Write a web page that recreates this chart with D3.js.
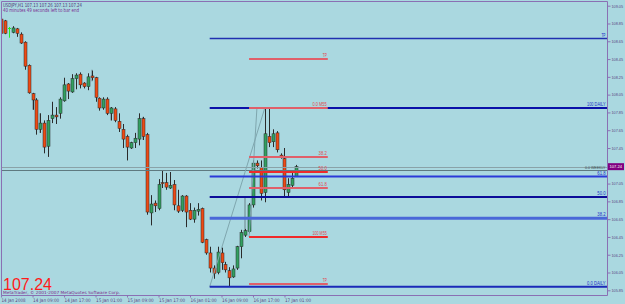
<!DOCTYPE html>
<html><head><meta charset="utf-8">
<script src="https://cdn.jsdelivr.net/npm/d3@7"></script>
<style>html,body{margin:0;padding:0;background:#aad8e0;overflow:hidden}svg{display:block}</style>
</head><body>
<svg id="c" width="625" height="304"></svg>
<script>
// ---- data ----
const symbol = "USDJPY,H1";
const lastOHLC = ["107.13", "107.26", "107.13", "107.24"];
const timerText = "40 minutes 49 seconds left to bar end";
const copyright = "MetaTrader, \u00A9 2001-2007 MetaQuotes Software Corp.";
const lastPrice = 107.24;

const timeTickBars = [0, 8, 16, 24, 32, 40, 48, 56, 64, 72];
const timeTickLabels = ["14 Jan 2008", "14 Jan 09:00", "14 Jan 17:00", "15 Jan 01:00", "15 Jan 09:00",
  "15 Jan 17:00", "16 Jan 01:00", "16 Jan 09:00", "16 Jan 17:00", "17 Jan 01:00"];

const priceTicks = [109.05, 108.85, 108.65, 108.45, 108.25, 108.05, 107.85, 107.65, 107.45,
  107.05, 106.85, 106.65, 106.45, 106.25, 106.05, 105.85];

const open  = [108.90,108.88,108.80,108.75,108.79,108.73,108.64,108.38,108.06,107.99,
  107.66,107.73,107.47,107.78,107.82,107.84,107.98,108.17,108.08,108.23,
  108.28,108.18,108.14,108.26,108.24,108.01,107.90,108.00,107.84,107.89,
  107.75,107.66,107.58,107.45,107.51,107.55,107.78,107.60,106.72,106.83,
  106.77,107.06,107.06,107.00,107.04,106.80,106.75,106.91,106.75,106.65,
  106.74,106.77,106.42,106.27,106.10,106.05,106.27,106.14,106.07,106.00,
  106.10,106.34,106.47,106.51,106.81,107.28,107.23,106.95,107.58,107.52,
  107.62,107.37,107.33,106.95,107.03,107.13];
const high  = [108.90,108.89,108.81,108.82,108.80,108.75,108.65,108.39,108.07,108.01,
  107.84,107.76,107.82,107.97,107.91,108.02,108.24,108.18,108.28,108.29,
  108.30,108.19,108.29,108.32,108.25,108.02,108.02,108.02,107.91,107.91,
  107.84,107.72,107.60,107.52,107.62,107.84,107.80,107.62,106.92,106.86,
  107.10,107.20,107.17,107.18,107.09,106.98,106.92,106.92,106.83,106.78,
  106.83,106.78,106.43,106.34,106.13,106.34,106.33,106.17,106.11,106.13,
  106.35,106.53,106.54,106.83,107.31,107.31,107.31,107.90,107.90,107.66,
  107.64,107.39,107.45,107.11,107.17,107.26];
const low   = [108.73,108.73,108.69,108.74,108.70,108.62,108.33,108.06,107.88,107.60,
  107.62,107.39,107.35,107.73,107.72,107.78,107.97,108.00,108.07,108.11,
  108.12,108.12,108.10,108.21,107.97,107.87,107.88,107.82,107.76,107.74,
  107.63,107.45,107.31,107.44,107.45,107.48,107.54,106.70,106.58,106.73,
  106.75,107.00,106.98,106.99,106.75,106.72,106.73,106.56,106.64,106.61,
  106.69,106.38,106.25,106.05,105.98,106.03,106.08,106.05,105.89,105.99,
  106.08,106.21,106.45,106.49,106.78,107.22,106.86,106.84,107.46,107.46,
  107.40,107.33,106.90,106.90,107.01,107.13];
const close = [108.74,108.74,108.80,108.80,108.74,108.63,108.37,108.07,107.99,107.66,
  107.73,107.46,107.76,107.82,107.80,108.00,108.16,108.09,108.23,108.27,
  108.16,108.14,108.25,108.24,108.02,107.90,108.00,107.84,107.90,107.76,
  107.67,107.55,107.46,107.51,107.56,107.78,107.58,106.73,106.82,106.80,
  107.04,107.05,107.01,107.03,106.81,106.74,106.91,106.73,106.65,106.75,
  106.76,106.39,106.27,106.10,106.04,106.28,106.16,106.08,105.99,106.09,
  106.34,106.50,106.52,106.81,107.28,107.25,106.94,107.61,107.51,107.61,
  107.43,107.35,106.98,107.04,107.11,107.24];

// grey ghost bars: bar index, high, low
const ghostBar  = [8, 10, 23, 28, 36, 62];
const ghostHigh = [108.02, 107.84, 108.33, 107.91, 107.80, 106.89];
const ghostLow  = [107.88, 107.62, 108.20, 107.76, 107.54, 106.51];

// DAILY fibo (blue, ray to the right)
const dailyAnchorBars = [53, 67];
const dailyAnchorPrices = [105.89, 107.90];
const dailyLevelPrices = [108.68, 107.90, 107.13, 106.90, 106.66, 105.89];
const dailyLevelLabels = ["TP", "100 DAILY", "61.8", "50.0", "38.2", "0.0 DAILY"];

// M55 fibo (red, segment)
const m55Bars = [63, 83];
const m55AnchorBars = [63, 65];
const m55AnchorPrices = [106.45, 107.90];
const m55LevelPrices = [108.45, 107.90, 107.35, 107.18, 107.00, 106.45, 105.92];
const m55LevelLabels = ["TP", "0.0 M55", "38.2", "50.0", "61.8", "100 M55", "TP"];

const weeklyPrice = 107.20;
const weeklyLabel = "0.0 WEEKLY";

// ---- drawing ----
const svg = d3.select("#c");
const W = 625, H = 304;
const L = 1.5, R = 607.5, T = 1.5, B = 295.5;
const FONT = "DejaVu Sans";
const NARROW = "Liberation Sans";

const x = d3.scaleLinear().domain([1, 75]).range([5, 296.3]);
const y = d3.scaleLinear().domain([105.85, 109.05]).range([290.3, 5.7]);
const px = v => Math.round(x(v)) + 0.5;
const py = v => Math.round(y(v)) + 0.5;

function fit(sel, w) {
  sel.attr("textLength", w).attr("lengthAdjust", "spacingAndGlyphs");
  return sel;
}
const CH = 2.05;

svg.append("rect").attr("width", W).attr("height", H).attr("fill", "#aad8e0");

svg.append("defs").append("clipPath").attr("id", "plot")
  .append("rect").attr("x", L + 0.5).attr("y", T + 0.5).attr("width", R - L - 1).attr("height", B - T - 1);

const plot = svg.append("g").attr("clip-path", "url(#plot)");

// ghost bars
plot.append("g").selectAll("rect").data(ghostBar).join("rect")
  .attr("x", (d) => Math.round(x(d)) - 1)
  .attr("width", 2)
  .attr("y", (d, i) => y(ghostHigh[i]))
  .attr("height", (d, i) => y(ghostLow[i]) - y(ghostHigh[i]))
  .attr("fill", "#6f8a92").attr("opacity", 0.55);

// candles
const bars = d3.range(open.length);
const cg = plot.append("g");
bars.forEach(i => {
  const o = open[i], c = close[i], h = high[i], l = low[i];
  const cx = px(i);
  const doji = Math.abs(o - c) < 0.001;
  const up = c > o;
  cg.append("line").attr("x1", cx).attr("x2", cx)
    .attr("y1", y(h)).attr("y2", y(l))
    .attr("stroke", doji ? "#22ee22" : "#2a2a2a").attr("stroke-width", 1);
  if (doji) {
    cg.append("line").attr("x1", cx - 1.5).attr("x2", cx + 1.5)
      .attr("y1", py(o)).attr("y2", py(o)).attr("stroke", "#22ee22");
  } else {
    const top = y(Math.max(o, c)), bot = y(Math.min(o, c));
    cg.append("rect").attr("x", cx - 1.5).attr("width", 3)
      .attr("y", top).attr("height", Math.max(1, bot - top))
      .attr("fill", up ? "#32a060" : "#ee4a14")
      .attr("stroke", "#2a2a2a").attr("stroke-width", 0.5);
  }
});

// bid and weekly lines
plot.append("line").attr("x1", L).attr("x2", R).attr("y1", py(lastPrice)).attr("y2", py(lastPrice))
  .attr("stroke", "#8aa2a8").attr("stroke-width", 1);
plot.append("line").attr("x1", L).attr("x2", R).attr("y1", py(weeklyPrice)).attr("y2", py(weeklyPrice))
  .attr("stroke", "#5f7a80").attr("stroke-width", 1);
fit(svg.append("text").attr("x", 605.5 - weeklyLabel.length * CH).attr("y", py(weeklyPrice) - 2)
  .attr("font-family", NARROW).attr("font-size", 4.4).attr("fill", "#3a4a4e")
  .text(weeklyLabel), weeklyLabel.length * CH);

// fibo diagonals
plot.append("line")
  .attr("x1", x(dailyAnchorBars[0])).attr("y1", y(dailyAnchorPrices[0]))
  .attr("x2", x(dailyAnchorBars[1])).attr("y2", y(dailyAnchorPrices[1]))
  .attr("stroke", "#7fa6ae").attr("stroke-width", 1);
plot.append("line")
  .attr("x1", x(m55AnchorBars[0])).attr("y1", y(m55AnchorPrices[0]))
  .attr("x2", x(m55AnchorBars[1])).attr("y2", y(m55AnchorPrices[1]))
  .attr("stroke", "#7fa6ae").attr("stroke-width", 1);

// blue DAILY levels
const blueColors = ["#2030b0", "#0a10a8", "#2a3ad8", "#0c0c98", "#4a68d8", "#1a2ab8"];
const blueWidths = [1.5, 2, 2, 2, 3, 2];
dailyLevelPrices.forEach((p, i) => {
  plot.append("line").attr("x1", x(dailyAnchorBars[0])).attr("x2", R)
    .attr("y1", y(p)).attr("y2", y(p))
    .attr("stroke", blueColors[i]).attr("stroke-width", blueWidths[i]);
  const t = dailyLevelLabels[i], w = t.length * CH;
  fit(svg.append("text").attr("x", 605.5 - w).attr("y", y(p) - 1.8)
    .attr("font-family", NARROW).attr("font-size", 4.6).attr("fill", "#2030c8").text(t), w);
});

// red M55 levels
m55LevelPrices.forEach((p, i) => {
  const strong = (i === 3 || i === 5);
  plot.append("line").attr("x1", x(m55Bars[0])).attr("x2", x(m55Bars[1]))
    .attr("y1", y(p)).attr("y2", y(p))
    .attr("stroke", strong ? "#f02a2a" : "#e0606a").attr("stroke-width", 2);
  const t = m55LevelLabels[i], w = t.length * CH;
  fit(svg.append("text").attr("x", x(m55Bars[1]) - 1 - w).attr("y", y(p) - 2)
    .attr("font-family", NARROW).attr("font-size", 4.6).attr("fill", "#e04850").text(t), w);
});

// frame
svg.append("path").attr("d", `M${L},${B}V${T}H${R}V${B}H${L}`)
  .attr("fill", "none").attr("stroke", "#8a70b4").attr("stroke-width", 1);

// right price axis
const ya = svg.append("g").attr("transform", `translate(${R},0)`)
  .call(d3.axisRight(y).tickValues(priceTicks).tickSize(3).tickPadding(1).tickFormat(d3.format(".2f")));
ya.select(".domain").remove();
ya.selectAll("line").attr("stroke", "#8a70b4");
ya.selectAll("text").attr("font-family", NARROW).attr("font-size", 4.2).attr("fill", "#5a4480")
  .attr("x", 4).attr("textLength", 11.5).attr("lengthAdjust", "spacingAndGlyphs");

// current price box
svg.append("rect").attr("x", 608).attr("y", y(lastPrice) - 3.5).attr("width", 16).attr("height", 7)
  .attr("fill", "#800080");
fit(svg.append("text").attr("x", 609.5).attr("y", y(lastPrice) + 1.8).attr("font-family", NARROW)
  .attr("font-size", 4.4).attr("fill", "#ffffff")
  .text(d3.format(".2f")(lastPrice)), 12.5);

// time axis
const xa = svg.append("g").attr("transform", `translate(0,${B})`)
  .call(d3.axisBottom(x).tickValues(timeTickBars).tickSize(2).tickPadding(2)
    .tickFormat((d, i) => timeTickLabels[i]));
xa.select(".domain").remove();
xa.selectAll("line").attr("stroke", "#8a70b4");
xa.selectAll("text").attr("text-anchor", "start").attr("dx", 0).attr("dy", 0)
  .attr("y", 6.5).attr("font-family", FONT).attr("font-size", 4.8).attr("fill", "#5a4480")
  .attr("textLength", (d, i) => timeTickLabels[i].length * 2.18).attr("lengthAdjust", "spacingAndGlyphs");

// header
fit(svg.append("text").attr("x", 3).attr("y", 7.2).attr("font-family", FONT).attr("font-size", 5.4)
  .attr("fill", "#4a3878").text(symbol + "  " + lastOHLC.join(" ")), 79);
fit(svg.append("text").attr("x", 3).attr("y", 12).attr("font-family", FONT).attr("font-size", 5.4)
  .attr("fill", "#7a2a90").text(timerText), 76);

// big price and copyright
fit(svg.append("text").attr("x", 3).attr("y", 290).attr("font-family", "Liberation Sans").attr("font-size", 16.5)
  .attr("fill", "#ff1a1a").text(d3.format(".2f")(lastPrice)), 49);
fit(svg.append("text").attr("x", 3).attr("y", 293.8).attr("font-family", FONT).attr("font-size", 4.2)
  .attr("fill", "#7a2a8a").text(copyright), 117);
</script>
</body></html>
